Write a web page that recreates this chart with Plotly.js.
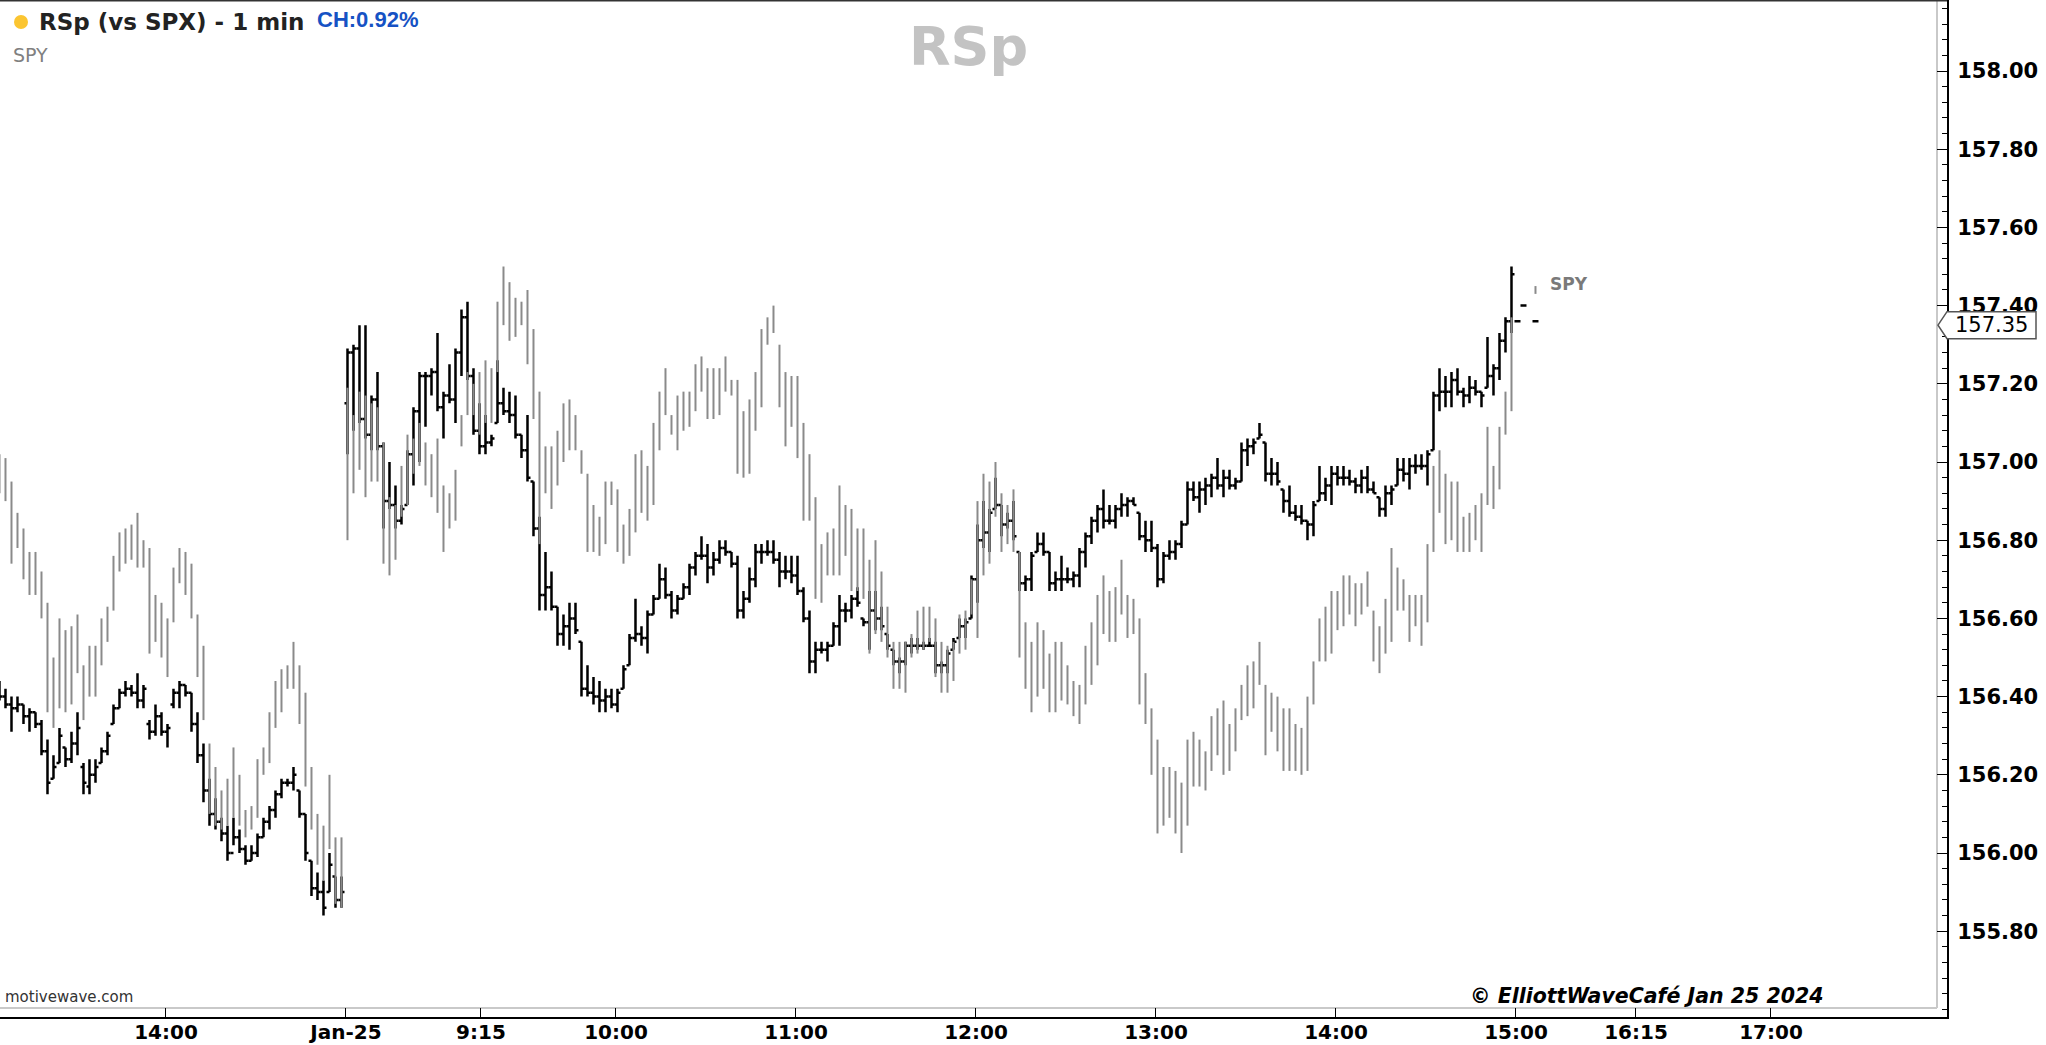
<!DOCTYPE html>
<html>
<head>
<meta charset="utf-8">
<script src="https://cdn.plot.ly/plotly-3.0.1.min.js"></script>
<style>
html,body{margin:0;padding:0;background:#fff;overflow:hidden;}
#chart{width:2046px;height:1045px;}
</style>
</head>
<body>
<div id="chart"></div>
<script>
// ---------- tick labels (minutes from Jan-25 session open, 8:30 CT) ----------
const tickMinutes = [-60, 0, 45, 90, 150, 210, 270, 330, 390, 430, 475];
const tickLabels  = ['14:00', 'Jan-25', '9:15', '10:00', '11:00', '12:00', '13:00', '14:00', '15:00', '16:15', '17:00'];
const yTickVals = [155.8, 156.0, 156.2, 156.4, 156.6, 156.8, 157.0, 157.2, 157.4, 157.6, 157.8, 158.0];
const lastPrice = 157.35;

// ---------- previous session (Jan-24, 2-minute bars from ~13:05 CT) ----------
const prevGrayHigh = [157.02,157.01,156.95,156.87,156.83,156.77,156.77,156.72,156.64,156.50,
156.60,156.57,156.58,156.61,156.48,156.53,156.53,156.60,156.63,156.76,
156.82,156.83,156.84,156.87,156.80,156.78,156.66,156.64,156.60,156.73,
156.78,156.77,156.74,156.61,156.53,156.28,156.22,156.16,156.19,156.27,
156.20,156.11,156.12,156.24,156.27,156.36,156.44,156.47,156.48,156.54,
156.48,156.41,156.22,156.10,156.07,156.20,156.04,156.04];
const prevGrayLow = [156.92,156.90,156.74,156.78,156.70,156.66,156.66,156.60,156.36,156.32,
156.37,156.36,156.38,156.46,156.34,156.40,156.40,156.48,156.54,156.62,
156.72,156.74,156.75,156.73,156.73,156.51,156.54,156.50,156.45,156.59,
156.69,156.66,156.60,156.45,156.34,156.10,156.07,156.06,156.07,156.09,
156.07,156.04,156.06,156.09,156.20,156.23,156.32,156.36,156.42,156.42,
156.33,156.17,156.06,155.97,155.93,156.01,155.87,155.86];
const prevOpen = [156.42,156.40,156.38,156.37,156.38,156.35,156.36,156.33,156.26,156.19,
156.23,156.27,156.24,156.28,156.22,156.17,156.20,156.23,156.26,156.33,
156.37,156.41,156.42,156.41,156.39,156.33,156.31,156.35,156.31,156.38,
156.41,156.43,156.41,156.33,156.25,156.16,156.10,156.08,156.05,156.00,
156.04,156.01,155.98,156.00,156.04,156.08,156.11,156.15,156.18,156.18,
156.16,156.10,155.98,155.91,155.90,155.90,155.94,155.88];
const prevHigh = [156.44,156.42,156.40,156.40,156.38,156.37,156.36,156.34,156.29,156.25,
156.32,156.27,156.31,156.36,156.23,156.24,156.24,156.27,156.31,156.38,
156.42,156.44,156.43,156.46,156.43,156.34,156.38,156.36,156.33,156.42,
156.44,156.43,156.41,156.36,156.28,156.19,156.14,156.09,156.07,156.09,
156.06,156.02,156.02,156.05,156.09,156.12,156.16,156.19,156.19,156.22,
156.16,156.10,155.98,155.95,155.93,156.00,155.94,155.94];
const prevLow = [156.39,156.37,156.31,156.36,156.33,156.31,156.32,156.25,156.15,156.19,
156.23,156.22,156.23,156.25,156.15,156.15,156.18,156.23,156.25,156.33,
156.37,156.40,156.40,156.37,156.37,156.29,156.30,156.30,156.27,156.37,
156.37,156.40,156.31,156.23,156.13,156.07,156.06,156.03,155.98,156.02,
156.00,155.97,155.98,155.99,156.04,156.06,156.09,156.14,156.17,156.16,
156.09,155.98,155.89,155.88,155.84,155.90,155.86,155.86];
const prevClose = [156.40,156.38,156.37,156.38,156.35,156.36,156.33,156.26,156.18,156.22,
156.30,156.24,156.28,156.32,156.18,156.20,156.22,156.26,156.30,156.37,
156.41,156.42,156.41,156.39,156.42,156.31,156.35,156.31,156.32,156.41,
156.43,156.41,156.33,156.25,156.16,156.10,156.08,156.05,156.00,156.04,
156.01,155.98,156.00,156.04,156.08,156.11,156.15,156.18,156.18,156.20,
156.10,156.00,155.91,155.90,155.86,155.97,155.88,155.90];

// ---------- Jan-25 session (2-minute bars from 8:30 CT) ----------
const dayGrayHigh = [157.19,157.12,157.18,157.17,157.15,157.14,157.05,156.91,156.89,156.99,
157.07,157.06,157.10,157.05,157.02,157.06,156.94,156.92,156.98,157.12,
157.23,157.20,157.23,157.26,157.24,157.41,157.50,157.46,157.42,157.41,
157.44,157.34,157.18,157.04,157.04,157.08,157.15,157.16,157.12,157.03,
156.97,156.89,156.86,156.95,156.95,156.93,156.84,156.88,157.02,157.03,
156.99,157.10,157.18,157.24,157.12,157.17,157.18,157.18,157.25,157.27,
157.24,157.24,157.24,157.27,157.21,157.21,157.13,157.16,157.23,157.34,
157.37,157.40,157.30,157.23,157.22,157.22,157.10,157.02,156.91,156.79,
156.82,156.83,156.94,156.89,156.88,156.83,156.83,156.75,156.80,156.72,
156.63,156.54,156.54,156.54,156.56,156.62,156.63,156.63,156.60,156.54,
156.53,156.54,156.61,156.62,156.70,156.90,156.97,156.95,157.00,156.92,
156.89,156.93,156.77,156.59,156.54,156.59,156.57,156.51,156.54,156.54,
156.48,156.44,156.43,156.53,156.59,156.66,156.71,156.67,156.68,156.75,
156.66,156.65,156.60,156.46,156.37,156.29,156.22,156.22,156.21,156.18,
156.29,156.31,156.29,156.26,156.35,156.37,156.39,156.33,156.37,156.43,
156.48,156.49,156.54,156.43,156.41,156.40,156.37,156.37,156.33,156.32,
156.40,156.49,156.60,156.63,156.67,156.67,156.71,156.71,156.69,156.69,
156.72,156.62,156.58,156.65,156.78,156.73,156.70,156.66,156.66,156.66,
156.79,156.99,157.03,156.97,156.95,156.95,156.86,156.87,156.89,156.92,
157.09,156.99,157.09,157.18,157.37,null,null,null,157.45];
const dayGrayLow = [156.80,156.92,156.98,156.91,156.95,156.95,156.74,156.71,156.75,156.86,
156.89,156.97,156.99,156.94,156.91,156.87,156.77,156.83,156.85,157.04,
157.12,157.12,157.07,157.10,157.10,157.23,157.35,157.31,157.32,157.35,
157.25,157.11,156.79,156.92,156.88,156.94,157.00,157.03,157.03,156.97,
156.77,156.77,156.76,156.79,156.89,156.77,156.74,156.76,156.82,156.87,
156.85,156.89,157.03,157.12,157.07,157.03,157.08,157.09,157.13,157.18,
157.11,157.11,157.12,157.18,157.17,156.97,156.96,156.97,157.08,157.14,
157.30,157.33,157.14,157.04,157.09,157.01,156.85,156.85,156.65,156.64,
156.71,156.71,156.71,156.76,156.67,156.67,156.65,156.51,156.56,156.54,
156.50,156.42,156.42,156.41,156.50,156.51,156.52,156.54,156.45,156.41,
156.41,156.44,156.51,156.52,156.61,156.55,156.71,156.74,156.86,156.77,
156.79,156.77,156.50,156.42,156.36,156.40,156.42,156.36,156.36,156.39,
156.38,156.35,156.33,156.38,156.43,156.48,156.56,156.54,156.54,156.61,
156.55,156.56,156.38,156.33,156.20,156.05,156.07,156.09,156.05,156.00,
156.07,156.17,156.17,156.16,156.21,156.25,156.20,156.21,156.26,156.34,
156.35,156.37,156.43,156.25,156.31,156.26,156.21,156.21,156.21,156.20,
156.21,156.38,156.49,156.49,156.51,156.57,156.58,156.61,156.58,156.61,
156.63,156.49,156.46,156.51,156.54,156.62,156.62,156.54,156.58,156.53,
156.59,156.77,156.87,156.79,156.80,156.77,156.77,156.77,156.80,156.77,
156.89,156.88,156.93,157.07,157.13,null,null,null,157.43];
const dayOpen = [157.15,157.28,157.29,157.11,157.07,157.16,157.04,156.90,156.89,156.85,
156.89,157.02,157.13,157.22,157.22,157.23,157.14,157.17,157.16,157.28,
157.37,157.22,157.08,157.04,157.05,157.10,157.15,157.13,157.12,157.07,
157.03,156.95,156.83,156.66,156.68,156.63,156.56,156.58,156.60,156.54,
156.42,156.41,156.40,156.39,156.40,156.38,156.42,156.48,156.55,156.56,
156.55,156.61,156.65,156.70,156.66,156.62,156.65,156.68,156.73,156.76,
156.76,156.73,156.75,156.78,156.77,156.74,156.62,156.65,156.70,156.77,
156.77,156.77,156.75,156.72,156.72,156.71,156.67,156.60,156.49,156.52,
156.52,156.53,156.58,156.62,156.62,156.65,156.60,156.59,156.62,156.60,
156.56,156.52,156.49,156.49,156.53,156.53,156.53,156.53,156.53,156.48,
156.48,156.52,156.55,156.58,156.60,156.70,156.80,156.82,156.88,156.89,
156.84,156.85,156.77,156.69,156.70,156.77,156.79,156.77,156.69,156.70,
156.70,156.70,156.71,156.77,156.81,156.85,156.88,156.85,156.85,156.88,
156.89,156.90,156.87,156.81,156.80,156.78,156.70,156.76,156.77,156.79,
156.84,156.93,156.91,156.93,156.94,156.96,156.94,156.96,156.94,156.95,
157.03,157.04,157.06,157.05,156.97,156.97,156.93,156.90,156.87,156.86,
156.85,156.84,156.90,156.92,156.94,156.97,156.96,156.96,156.95,156.94,
156.96,156.93,156.91,156.88,156.92,156.94,156.98,156.97,156.99,156.99,
156.99,157.03,157.17,157.18,157.18,157.21,157.18,157.17,157.19,157.18,
157.19,157.22,157.24,157.31,157.36,157.36,157.40,null,157.36];
const dayHigh = [157.29,157.30,157.35,157.35,157.17,157.23,157.05,157.00,156.94,156.89,
157.03,157.14,157.23,157.23,157.24,157.33,157.18,157.25,157.29,157.39,
157.41,157.24,157.15,157.12,157.07,157.26,157.19,157.18,157.17,157.07,
157.12,156.95,156.86,156.77,156.72,156.63,156.61,156.64,156.64,156.54,
156.48,156.45,156.44,156.42,156.42,156.42,156.48,156.56,156.65,156.58,
156.62,156.66,156.74,156.73,156.67,156.66,156.69,156.74,156.77,156.81,
156.79,156.77,156.80,156.80,156.77,156.76,156.67,156.73,156.79,156.79,
156.80,156.80,156.77,156.76,156.76,156.76,156.68,156.62,156.54,156.54,
156.54,156.59,156.66,156.64,156.66,156.68,156.60,156.67,156.67,156.63,
156.56,156.52,156.50,156.54,156.55,156.55,156.54,156.55,156.54,156.49,
156.52,156.55,156.60,156.60,156.71,156.84,156.90,156.88,156.96,156.89,
156.87,156.90,156.77,156.71,156.77,156.82,156.82,156.77,156.72,156.76,
156.73,156.72,156.78,156.82,156.86,156.89,156.93,156.89,156.89,156.92,
156.91,156.91,156.87,156.85,156.85,156.79,156.77,156.80,156.80,156.85,
156.95,156.95,156.95,156.96,156.97,157.01,156.98,156.98,156.96,157.05,
157.06,157.06,157.10,157.05,157.01,157.00,156.93,156.94,156.89,156.89,
156.85,156.90,156.99,156.96,156.99,156.99,156.99,156.98,156.96,156.98,
156.99,156.95,156.91,156.94,156.94,157.01,157.01,157.01,157.02,157.02,
157.03,157.18,157.24,157.22,157.23,157.24,157.19,157.22,157.21,157.18,
157.32,157.25,157.33,157.37,157.50,157.36,157.40,null,157.36];
const dayLow = [157.02,157.08,157.10,157.06,157.03,157.03,156.83,156.88,156.83,156.84,
156.89,156.94,157.00,157.09,157.17,157.13,157.06,157.15,157.10,157.22,
157.21,157.07,157.02,157.02,157.04,157.10,157.12,157.10,157.06,157.01,
156.95,156.81,156.62,156.62,156.62,156.53,156.53,156.52,156.56,156.40,
156.40,156.38,156.36,156.36,156.37,156.36,156.42,156.48,156.54,156.53,
156.51,156.61,156.65,156.65,156.60,156.61,156.65,156.66,156.71,156.75,
156.69,156.71,156.74,156.76,156.73,156.60,156.60,156.64,156.68,156.74,
156.76,156.74,156.68,156.70,156.69,156.66,156.59,156.46,156.46,156.51,
156.49,156.53,156.53,156.59,156.60,156.63,156.58,156.52,156.57,156.57,
156.52,156.48,156.46,156.48,156.51,156.52,156.52,156.53,156.46,156.46,
156.46,156.52,156.55,156.55,156.60,156.64,156.78,156.77,156.88,156.81,
156.83,156.80,156.67,156.67,156.67,156.77,156.76,156.67,156.67,156.67,
156.69,156.68,156.68,156.73,156.79,156.82,156.83,156.84,156.83,156.86,
156.86,156.89,156.80,156.77,156.77,156.68,156.69,156.75,156.75,156.78,
156.84,156.90,156.87,156.89,156.91,156.93,156.91,156.93,156.93,156.95,
156.99,157.02,157.06,156.95,156.94,156.94,156.87,156.86,156.85,156.84,
156.80,156.81,156.90,156.90,156.89,156.94,156.94,156.94,156.92,156.92,
156.92,156.92,156.86,156.86,156.89,156.94,156.95,156.93,156.97,156.98,
156.94,157.03,157.13,157.14,157.14,157.17,157.14,157.15,157.17,157.14,
157.19,157.17,157.21,157.28,157.33,157.36,157.40,null,157.36];
const dayClose = [157.28,157.29,157.11,157.07,157.16,157.04,156.90,156.89,156.85,156.88,
157.02,157.13,157.22,157.22,157.23,157.14,157.17,157.16,157.28,157.37,
157.22,157.08,157.04,157.05,157.06,157.15,157.13,157.12,157.07,157.03,
156.96,156.83,156.66,156.68,156.63,156.56,156.58,156.60,156.57,156.42,
156.41,156.40,156.39,156.40,156.38,156.41,156.47,156.55,156.56,156.55,
156.61,156.65,156.70,156.66,156.62,156.65,156.68,156.73,156.76,156.76,
156.73,156.75,156.78,156.77,156.74,156.62,156.65,156.70,156.77,156.77,
156.77,156.75,156.72,156.72,156.71,156.67,156.60,156.49,156.52,156.52,
156.53,156.58,156.62,156.62,156.65,156.64,156.59,156.62,156.60,156.58,
156.53,156.49,156.49,156.53,156.53,156.53,156.53,156.53,156.48,156.48,
156.51,156.54,156.58,156.59,156.70,156.80,156.82,156.87,156.89,156.84,
156.85,156.81,156.69,156.70,156.76,156.79,156.77,156.69,156.70,156.70,
156.70,156.71,156.77,156.81,156.85,156.88,156.85,156.85,156.88,156.89,
156.90,156.89,156.81,156.80,156.78,156.70,156.76,156.77,156.79,156.84,
156.93,156.91,156.93,156.94,156.96,156.94,156.96,156.94,156.95,157.03,
157.04,157.05,157.07,156.97,156.97,156.95,156.90,156.87,156.86,156.85,
156.84,156.89,156.92,156.94,156.97,156.96,156.96,156.95,156.94,156.96,
156.93,156.92,156.88,156.92,156.93,156.98,156.97,156.99,156.99,156.99,
157.02,157.17,157.18,157.18,157.21,157.18,157.17,157.19,157.18,157.17,
157.22,157.24,157.31,157.36,157.48,157.36,157.40,null,157.36];

// ---------- x positions (minute index, 2-minute bars) ----------
const BAR_MIN = 2;
const prevFirstMinute = -116;
const xPrev = prevHigh.map((_, k) => prevFirstMinute + BAR_MIN * k + 0.5);
const xDay = dayHigh.map((_, j) => BAR_MIN * j + 0.5);

const xAll = xPrev.concat(xDay);
const oAll = prevOpen.concat(dayOpen);
const hAll = prevHigh.concat(dayHigh);
const lAll = prevLow.concat(dayLow);
const cAll = prevClose.concat(dayClose);
const gHigh = prevGrayHigh.concat(dayGrayHigh);
const gLow = prevGrayLow.concat(dayGrayLow);

// gray relative-strength bars as vertical segments
const gx = [], gy = [];
for (let i = 0; i < xAll.length; i++) {
  if (gHigh[i] == null || gLow[i] == null) continue;
  gx.push(xAll[i], xAll[i], null);
  gy.push(gLow[i], gHigh[i], null);
}

const traces = [
  {
    type: 'scatter', mode: 'lines', x: gx, y: gy,
    line: {color: '#8a8a8a', width: 2}, hoverinfo: 'skip', showlegend: false
  },
  {
    type: 'ohlc', x: xAll, open: oAll, high: hAll, low: lAll, close: cAll,
    increasing: {line: {color: '#000000', width: 2.5}},
    decreasing: {line: {color: '#000000', width: 2.5}},
    tickwidth: 0.5, hoverinfo: 'skip', showlegend: false
  }
];

const W = 2046, H = 1045;
const plotW = 1947, plotH = 1017;
const px = v => v / plotW;            // pixel -> paper x
const py = v => 1 - v / plotH;        // pixel -> paper y

const layout = {
  width: W, height: H,
  margin: {l: 0, r: W - plotW, t: 0, b: H - plotH, pad: 0},
  paper_bgcolor: '#ffffff', plot_bgcolor: '#ffffff',
  showlegend: false,
  xaxis: {
    type: 'linear', range: [-115.33, 533.67], fixedrange: true,
    rangeslider: {visible: false},
    tickmode: 'array', tickvals: tickMinutes, ticktext: tickLabels,
    ticks: 'inside', ticklen: 9, tickwidth: 1, tickcolor: '#000',
    showline: true, linecolor: '#000', linewidth: 2,
    showgrid: false, zeroline: false, ticklabelstandoff: -4,
    tickfont: {family: 'DejaVu Sans', size: 20, color: '#000', weight: 'bold'}
  },
  yaxis: {
    side: 'right', range: [155.5806, 158.1816], fixedrange: true,
    tickmode: 'array', tickvals: yTickVals, ticktext: yTickVals.map(v => v.toFixed(2)),
    ticks: 'inside', ticklen: 10, tickwidth: 1, tickcolor: '#000',
    minor: {tickmode: 'linear', tick0: 155.8, dtick: 0.04, ticks: 'inside', ticklen: 5, tickcolor: '#000', tickwidth: 1, showgrid: false},
    showline: true, linecolor: '#000', linewidth: 2,
    showgrid: false, zeroline: false, ticklabelstandoff: 4,
    tickfont: {family: 'DejaVu Sans', size: 21, color: '#000', weight: 'bold'}
  },
  shapes: [
    {type: 'line', xref: 'paper', yref: 'paper', x0: 0, x1: 1, y0: 1, y1: 1, line: {color: '#333', width: 3}, layer: 'above'},
    {type: 'line', xref: 'paper', yref: 'paper', x0: px(1937), x1: px(1937), y0: py(1008), y1: 1, line: {color: '#c9c9c9', width: 2}, layer: 'below'},
    {type: 'line', xref: 'paper', yref: 'paper', x0: 0, x1: px(1937), y0: py(1008), y1: py(1008), line: {color: '#c9c9c9', width: 2}, layer: 'below'},
    {type: 'circle', xref: 'paper', yref: 'paper', x0: px(14), x1: px(28), y0: py(29), y1: py(15), fillcolor: '#fbc531', line: {width: 0}},
    {type: 'path', xref: 'paper', yref: 'y', layer: 'above',
     path: 'M ' + px(1938) + ',' + lastPrice + ' L ' + px(1947) + ',' + (lastPrice + 0.0345) +
           ' L ' + px(2036) + ',' + (lastPrice + 0.0345) + ' L ' + px(2036) + ',' + (lastPrice - 0.0345) +
           ' L ' + px(1947) + ',' + (lastPrice - 0.0345) + ' Z',
     fillcolor: '#ffffff', line: {color: '#555555', width: 1.5}}
  ],
  annotations: [
    {xref: 'paper', yref: 'paper', x: px(37), y: py(22), xanchor: 'left', yanchor: 'middle', showarrow: false,
     text: 'RSp (vs SPX) - 1 min', font: {family: 'DejaVu Sans', size: 23, color: '#222', weight: 'bold'}},
    {xref: 'paper', yref: 'paper', x: px(315), y: py(19), xanchor: 'left', yanchor: 'middle', showarrow: false,
     text: 'CH:0.92%', font: {family: 'Liberation Sans', size: 22, color: '#1652c4', weight: 'bold'}},
    {xref: 'paper', yref: 'paper', x: px(11), y: py(55), xanchor: 'left', yanchor: 'middle', showarrow: false,
     text: 'SPY', font: {family: 'DejaVu Sans', size: 19, color: '#808080'}},
    {xref: 'paper', yref: 'paper', x: px(968), y: py(46), xanchor: 'center', yanchor: 'middle', showarrow: false,
     text: 'RSp', font: {family: 'DejaVu Sans', size: 54, color: '#c3c3c3', weight: 'bold'}},
    {xref: 'paper', yref: 'paper', x: px(3), y: py(997), xanchor: 'left', yanchor: 'middle', showarrow: false,
     text: 'motivewave.com', font: {family: 'DejaVu Sans', size: 15, color: '#333'}},
    {xref: 'paper', yref: 'paper', x: px(1825), y: py(996), xanchor: 'right', yanchor: 'middle', showarrow: false,
     text: '© ElliottWaveCafé Jan 25 2024', font: {family: 'DejaVu Sans', size: 20.5, color: '#000', weight: 'bold', style: 'italic'}},
    {xref: 'x', yref: 'y', x: 400.7, y: 157.455, xanchor: 'left', yanchor: 'middle', showarrow: false,
     text: 'SPY', font: {family: 'DejaVu Sans', size: 17, color: '#7a7a7a', weight: 'bold'}},
    {xref: 'paper', yref: 'y', x: px(1991), y: lastPrice, xanchor: 'center', yanchor: 'middle', showarrow: false,
     text: lastPrice.toFixed(2), font: {family: 'DejaVu Sans', size: 21, color: '#000'}}
  ]
};

Plotly.newPlot('chart', traces, layout, {staticPlot: true, displayModeBar: false});
</script>
</body>
</html>
